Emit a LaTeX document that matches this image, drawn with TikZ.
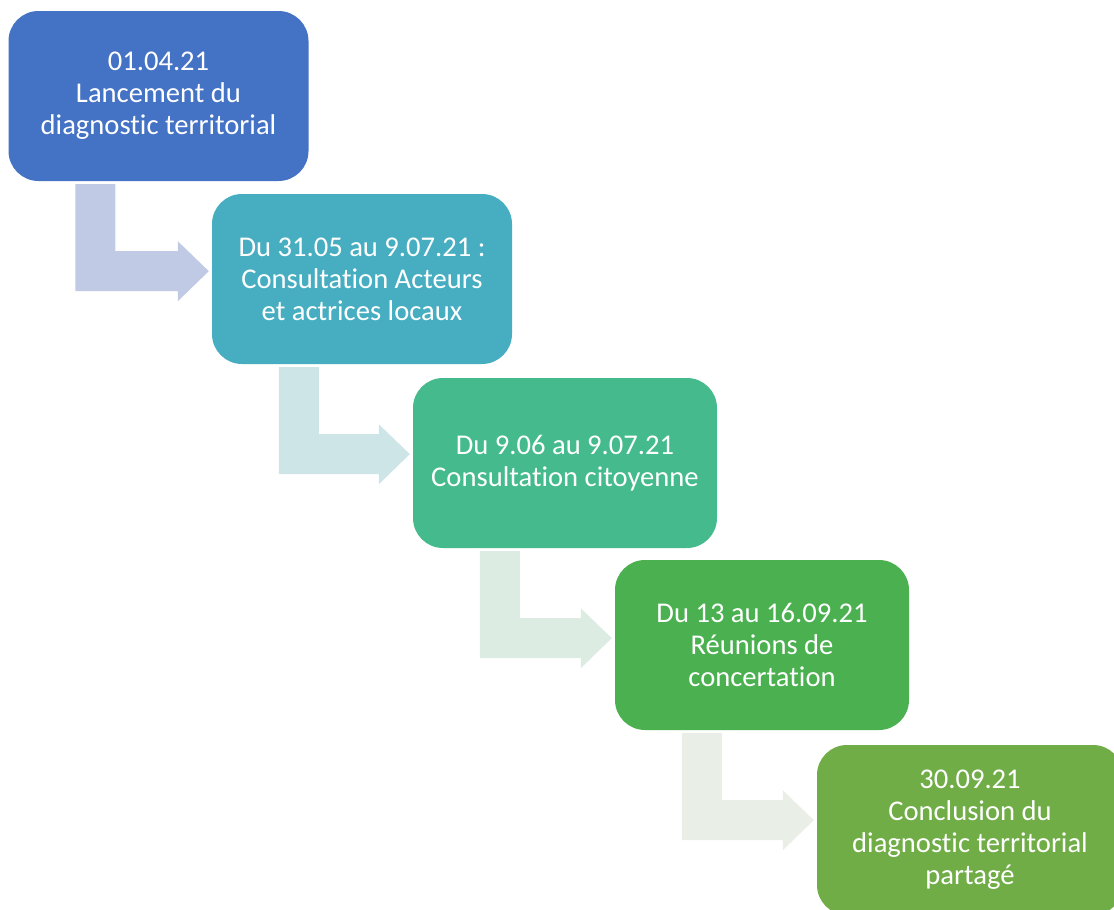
\documentclass[tikz,border=0pt]{standalone}
\usepackage{fontspec}
\setmainfont{Carlito}[Ligatures=NoCommon]
\usetikzlibrary{calc}
\definecolor{boxA}{HTML}{4472C4}
\definecolor{boxB}{HTML}{47AEC2}
\definecolor{boxC}{HTML}{45BB8D}
\definecolor{boxD}{HTML}{4BB150}
\definecolor{boxE}{HTML}{70AD47}
\definecolor{arrA}{HTML}{C0CAE5}
\definecolor{arrB}{HTML}{CEE5E8}
\definecolor{arrC}{HTML}{DCECE3}
\definecolor{arrD}{HTML}{E9EEE7}
\tikzset{box/.style={rounded corners=30pt, minimum width=300pt, minimum height=170pt,
  inner sep=0pt, text=white, align=center, font=\fontsize{28.6}{32}\selectfont}}
% bent arrow below #1 pointing at #2
\newcommand{\bentarrow}[3]{%
\coordinate (tip) at ($(#2.west |- #1.south)+(-3,90)$);
\fill[#3] ($(#1.south west)+(67,3)$) -- ++(40,0) -- ++(0,67)
  -- ($(tip)+(-31,-20)$) -- ($(tip)+(-31,-30)$) -- (tip)
  -- ($(tip)+(-31,30)$) -- ($(tip)+(-31,20)$)
  -- ($(#1.south west)+(67,110)$) -- cycle;}

\begin{document}
\begin{tikzpicture}[x=1pt,y=-1pt]
\useasboundingbox (0,0) rectangle (1114,910);
\clip (0,0) rectangle (1114,910);

\node[box, fill=boxA] (b1) at (158.5,96) {01.04.21\\Lancement du\\diagnostic territorial};
\node[box, fill=boxB] (b2) at (362,279) {Du 31.05 au 9.07.21 :\\Consultation Acteurs\\et actrices locaux};
\node[box, fill=boxC, minimum width=304pt] (b3) at (565,463) {Du 9.06 au 9.07.21\\Consultation citoyenne};
\node[box, fill=boxD, minimum width=294pt] (b4) at (762,645) {Du 13 au 16.09.21\\Réunions de\\concertation};
\node[box, fill=boxE, minimum width=306pt] (b5) at (970,830) {30.09.21\\Conclusion du\\diagnostic territorial\\partagé};

\bentarrow{b1}{b2}{arrA}
\bentarrow{b2}{b3}{arrB}
\bentarrow{b3}{b4}{arrC}
\bentarrow{b4}{b5}{arrD}
\end{tikzpicture}
\end{document}
